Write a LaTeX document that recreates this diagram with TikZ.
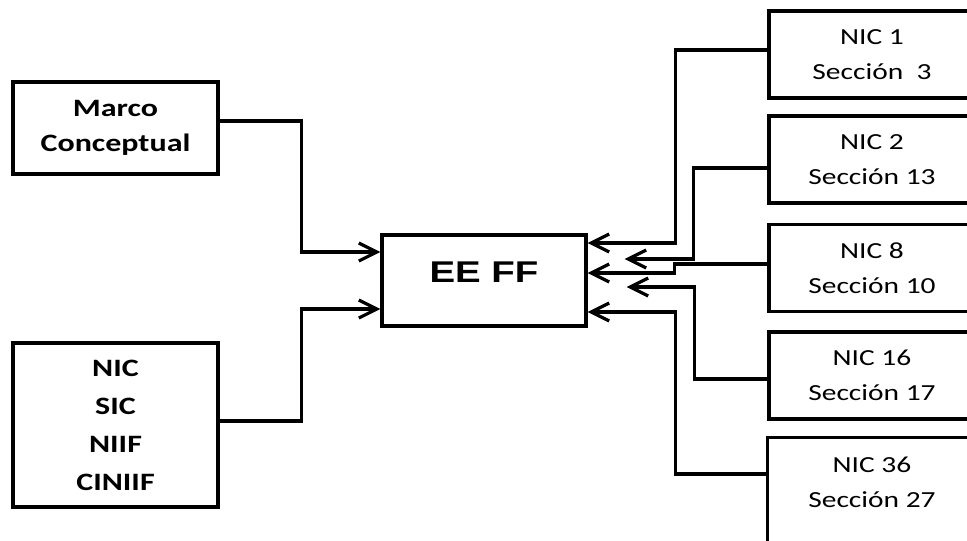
\documentclass[tikz,border=0pt]{standalone}
\usepackage{fontspec}
\setmainfont{Carlito}[FakeStretch=1.28]
\newfontfamily\eefont{Liberation Sans}[FakeStretch=1.28]
\usetikzlibrary{arrows.meta}

\begin{document}
\begin{tikzpicture}[x=1pt, y=-1pt, line width=3.2pt,
      blk/.style={draw, rectangle, minimum width=205pt, align=center, inner sep=0pt},
      lft/.style={blk, font=\fontsize{25}{35}\selectfont\bfseries},
      rgt/.style={blk, minimum width=206pt, minimum height=87pt,
                  font=\fontsize{23}{35}\selectfont},
      arr/.style={-{Straight Barb[length=18pt, width=18pt]}, line join=miter}]

    \useasboundingbox (0,0) rectangle (967,541);
    \clip (0,0) rectangle (967,541);

    % ============================
    % NODES
    % ============================

    % sources on the left
    \node[lft, minimum height=92pt] (marco) at (115.5,128) {Marco\\Conceptual};
    \node[lft, minimum height=164pt, font=\fontsize{25}{38}\selectfont\bfseries]
      (normas) at (115.5,425) {NIC\\SIC\\NIIF\\CINIIF};

    % financial statements
    \node[blk, minimum width=204pt, minimum height=91pt, text depth=16pt,
          font=\eefont\fontsize{30}{36}\selectfont\bfseries] (eeff) at (484,280.5) {EE FF};

    % standards on the right (cut by the page edge)
    \foreach \nm/\yc/\txt in {nic1/54.5/{NIC 1\\Sección\ \ 3},
                              nic2/159.5/{NIC 2\\Sección 13},
                              nic8/268/{NIC 8\\Sección 10},
                              nic16/375.5/{NIC 16\\Sección 17}}
      \node[rgt] (\nm) at (872,\yc) {\txt};
    % last box runs past the bottom edge
    \node[rgt, draw=none] (nic36) at (872,482.5) {NIC 36\\Sección 27};
    \draw (nic36.south west) |- (nic36.north east) -- ([yshift=-30pt]nic36.south east);
    \draw ([yshift=-30pt]nic36.south west) -- (nic36.south west);

    % ============================
    % CONNECTORS
    % ============================
    \draw[arr] ([yshift=7pt]marco.east) -- ++(82,0) |- ([yshift=28.5pt]eeff.west);
    \draw[arr] ([yshift=4pt]normas.east) -- ++(82,0) |- ([yshift=-28.5pt]eeff.west);

    \coordinate (t2) at ([xshift=37pt, yshift=21.5pt]eeff.east);
    \coordinate (t16) at ([xshift=39pt, yshift=-6.5pt]eeff.east);

    \draw[arr] ([yshift=4.5pt]nic1.west) -- ++(-92,0) |- ([yshift=37.5pt]eeff.east);
    \draw[arr] ([yshift=-8.5pt]nic2.west) -- ++(-74,0) |- (t2);
    \draw[arr] ([yshift=4pt]nic8.west) -- ++(-93,0) -- ++(0,9) -- ([yshift=7.5pt]eeff.east);
    \draw[arr] ([yshift=-3.5pt]nic16.west) -- ++(-73,0) |- (t16);
    \draw[arr] ([yshift=8.5pt]nic36.west) -- ++(-92,0) |- ([yshift=-31.5pt]eeff.east);

\end{tikzpicture}
\end{document}
